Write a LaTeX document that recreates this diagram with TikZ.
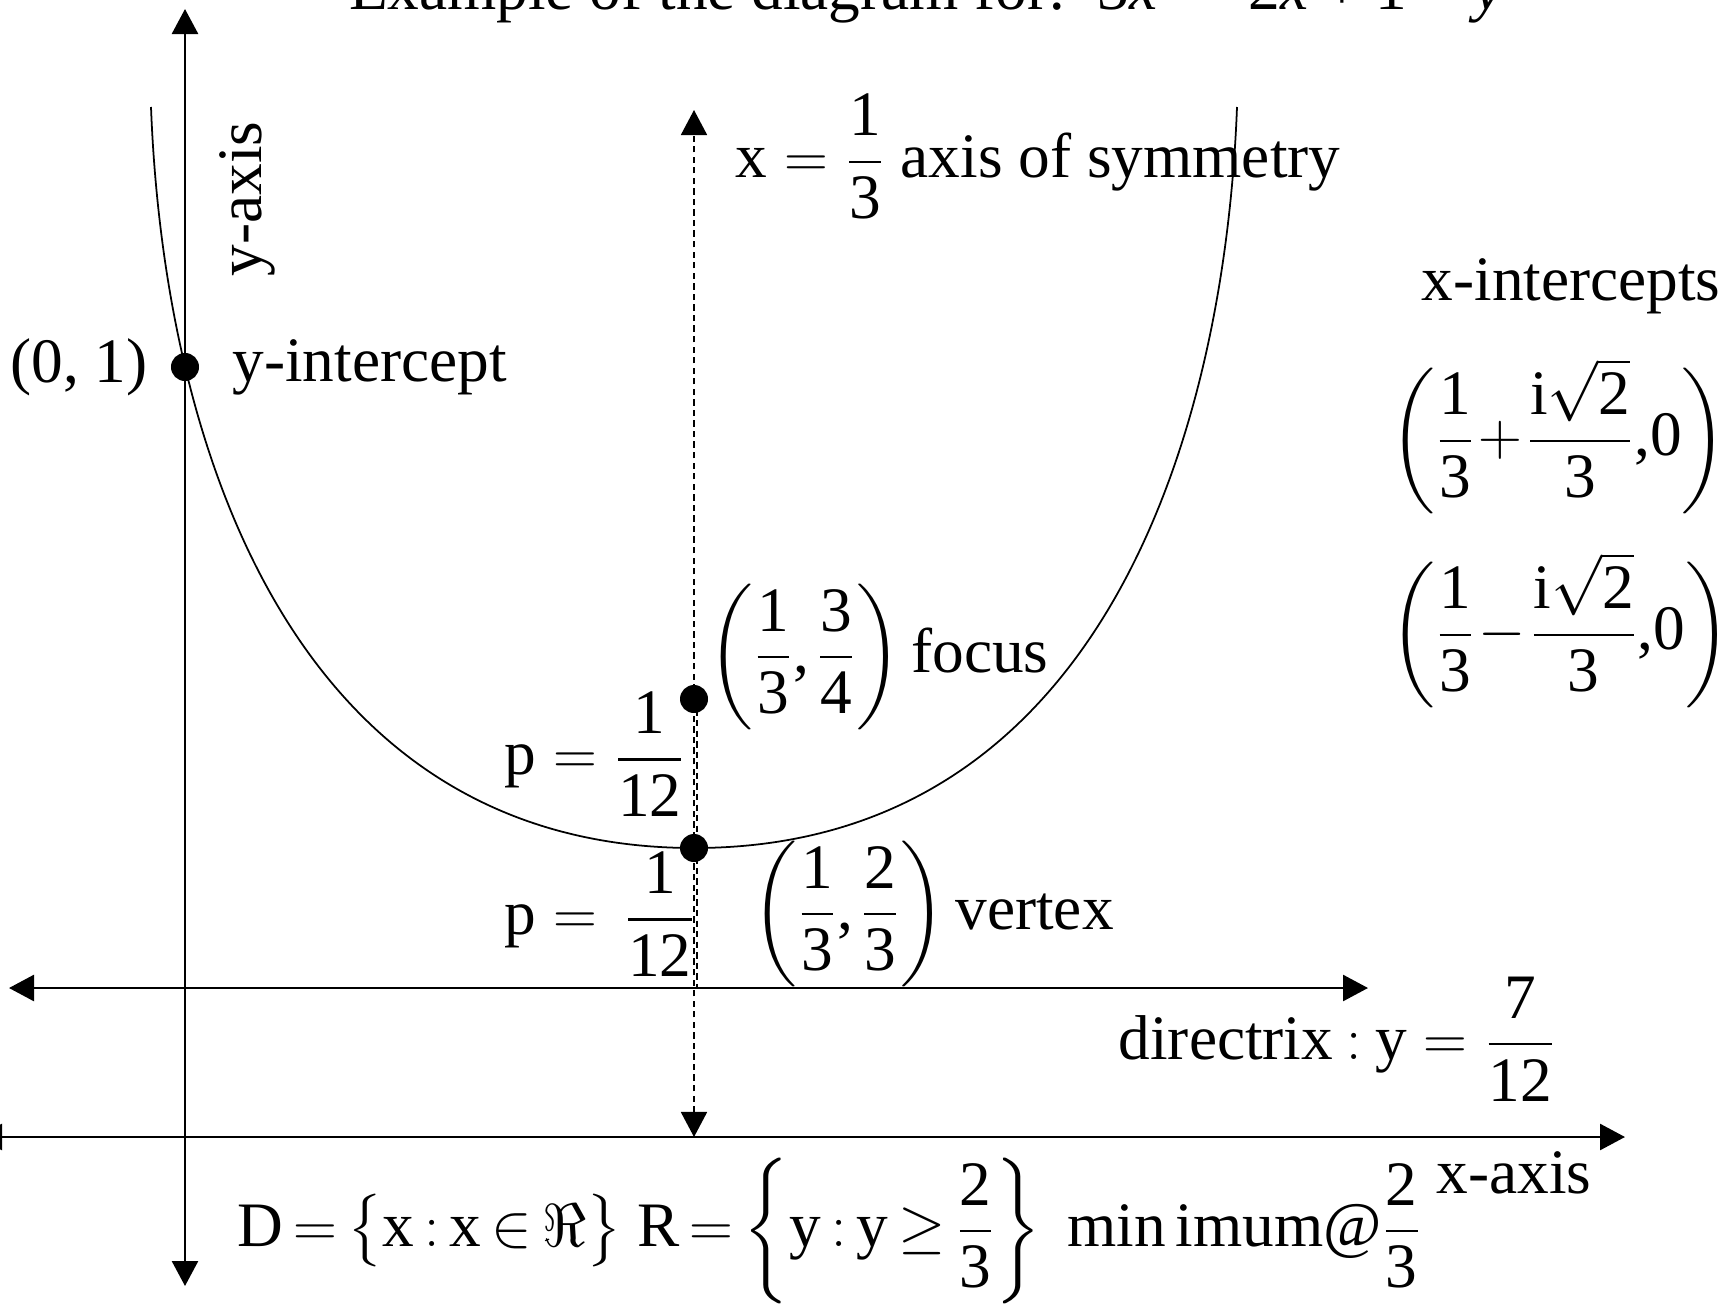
\documentclass[tikz,border=0pt]{standalone}
\usepackage{fontspec}
\setmainfont{Liberation Serif}
\usepackage{amsmath}
\usetikzlibrary{arrows.meta,positioning}

\newcommand{\fr}[2]{\dfrac{\text{#1}}{\text{#2}}}

\begin{document}
\begin{tikzpicture}[
    x=0.01cm, y=-0.01cm, >={Triangle[length=2.5mm,width=2.6mm]},
    axis/.style={line width=0.75pt},
    symline/.style={line width=0.5pt, dash pattern=on 1.8pt off 1.2pt},
    curve/.style={line width=0.5pt},
    dot/.style={circle, fill, inner sep=0pt, minimum size=2.8mm},
    every node/.append style={font=\fontsize{18}{22}\selectfont, inner sep=0pt}
]
    \useasboundingbox (0,0) rectangle (1727,1306);

    \node[anchor=base] (title) at (926,10) {Example of the diagram for:\ \ 3\textit{x}\textsuperscript{2} − 2\textit{x} + 1 = \textit{y}};

    \coordinate (yup) at (185,9);
    \coordinate (ydown) at (185,1286);
    \coordinate (xleft) at (-23,1137);
    \coordinate (xright) at (1625,1137);
    \coordinate (dleft) at (9,988);
    \coordinate (dright) at (1368,988);
    \coordinate (stop) at (694,110);
    \coordinate (sbot) at (694,1137);
    \coordinate (dfoot) at (694,988);

    \draw[axis,<->] (ydown) -- (yup);
    \draw[axis,<->] (xleft) -- (xright);
    \draw[axis,<->] (dleft) -- (dright);
    \draw[symline,<->] (sbot) -- (stop);

    \draw[curve] (151,107) .. controls (164,448) and (294,848) .. (694,848)
                           .. controls (1094,848) and (1224,448) .. (1237,107);

    \node[dot] (yint) at (185,367) {};
    \node[dot] (focus) at (694,699) {};
    \node[dot] (vertex) at (694,848) {};

    \draw[symline] ([xshift=0.3mm]focus.center) -- ([xshift=0.3mm]dfoot);

    \node[left=0.22cm of yint] (ycoord) {(0, 1)};
    \node[right=0.32cm of yint] (ylabel) {y-intercept};
    \node[rotate=90] (yaxislbl) at (247,199) {y-axis};
    \node (xaxislbl) at (1514,1173) {x-axis};

    \node[anchor=base west] (symlbl) at (735,177) {$\mathrm{x}=\fr{1}{3}$\ axis of symmetry};
    \node[anchor=west] (focuslbl) at (708,657) {$\left(\fr{1}{3}\text{,}\mkern2mu\fr{3}{4}\right)$\,focus};
    \node[anchor=west] (vertexlbl) at (752,914) {$\left(\fr{1}{3}\text{,}\mkern2mu\fr{2}{3}\right)$\,vertex};
    \node[anchor=west] (pup) at (504,754) {$\mathrm{p}=\fr{1}{12}$};
    \node[anchor=west] (pdown) at (504,914) {$\mathrm{p}=\,\fr{1}{12}$};
    \node[anchor=west] (dirlbl) at (1118,1039) {$\text{directrix}\mathbin{:}\mathrm{y}=\fr{7}{12}$};

    \node[anchor=west] (xints) at (1421,286) {x-intercepts};
    \node[anchor=west] (xint1) at (1390,436) {$\biggl(\fr{1}{3}\mkern-3mu+\mkern-3mu\dfrac{\mathrm{i}\sqrt{\text{2}}}{\text{3}}\text{,0}\biggr)$};
    \node[anchor=west] (xint2) at (1390,630) {$\biggl(\fr{1}{3}\mkern-3mu-\mkern-3mu\dfrac{\mathrm{i}\sqrt{\text{2}}}{\text{3}}\text{,0}\biggr)$};

    \node[anchor=west] (domain) at (237,1231) {\thickmuskip=3mu\medmuskip=2mu$\mathrm{D}=\bigl\{\mathrm{x}:\mathrm{x}\in\Re\bigr\}\ \mathrm{R}=\left\{\mathrm{y}:\mathrm{y}\geq\fr{2}{3}\right\}\ \mathrm{min\,imum}@\fr{2}{3}$};
\end{tikzpicture}
\end{document}
